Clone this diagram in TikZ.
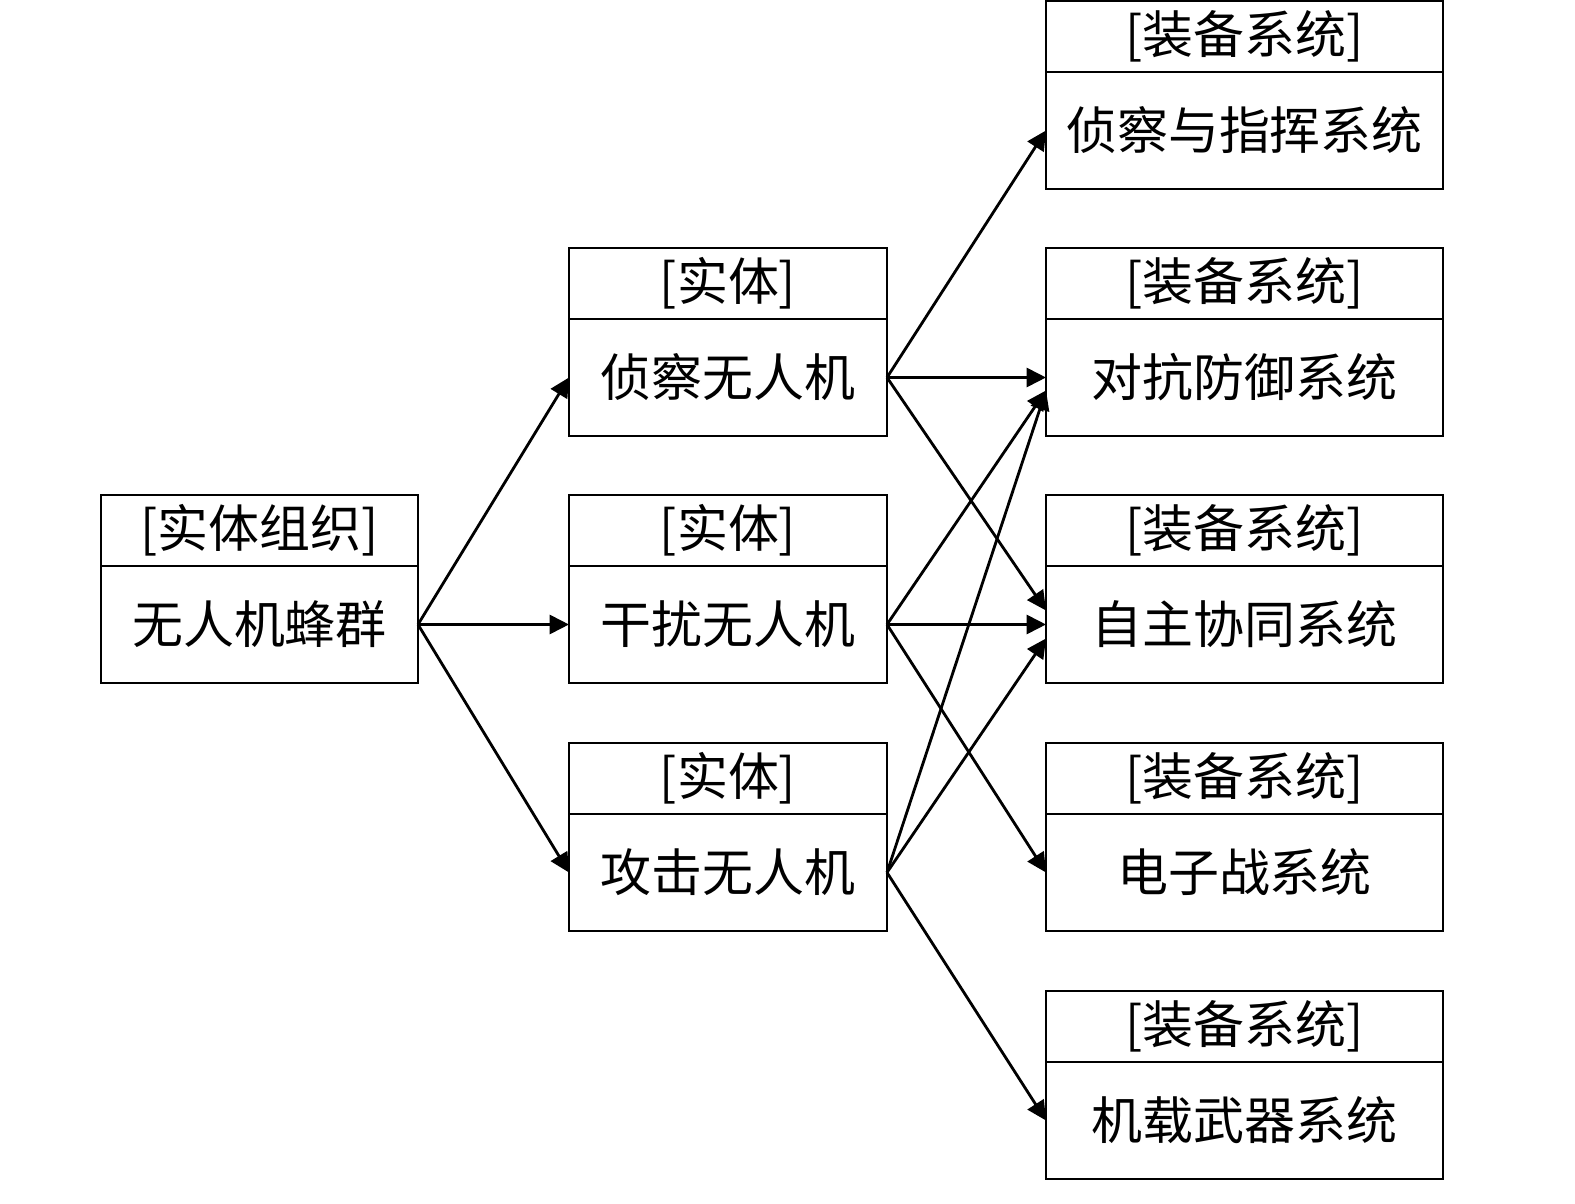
\documentclass[tikz,border=0pt]{standalone}
\usepackage{fontspec}
\newfontfamily\cjk{Noto Sans CJK SC}
\usetikzlibrary{arrows.meta,positioning}

\begin{document}
\begin{tikzpicture}

    % Define styles
    \tikzset{
        head box/.style={draw, line width=0.7pt, inner sep=0pt, outer sep=0pt, anchor=north west,
            minimum height=0.71cm, font=\cjk\fontsize{14.5}{16}\selectfont},
        body box/.style={draw, line width=0.7pt, inner sep=0pt, outer sep=0pt,
            minimum height=1.17cm, font=\cjk\fontsize{14.5}{16}\selectfont},
        link/.style={line width=0.8pt, -{Triangle[length=5.5pt,width=5.4pt]}}
    }

    % Page frame
    \useasboundingbox (0,0) rectangle (15.75,-12.04);

    % Entity organisation (left)
    \node[head box, minimum width=3.17cm] (swarm-h) at (1.01,-4.95) {[实体组织]};
    \node[body box, minimum width=3.17cm, below=0pt of swarm-h] (swarm) {无人机蜂群};

    % Entities (middle)
    \node[head box, minimum width=3.18cm] (recon-h) at (5.69,-2.48) {[实体]};
    \node[body box, minimum width=3.18cm, below=0pt of recon-h] (recon) {侦察无人机};
    \node[head box, minimum width=3.18cm] (jam-h) at (5.69,-4.95) {[实体]};
    \node[body box, minimum width=3.18cm, below=0pt of jam-h] (jam) {干扰无人机};
    \node[head box, minimum width=3.18cm] (strike-h) at (5.69,-7.43) {[实体]};
    \node[body box, minimum width=3.18cm, below=0pt of strike-h] (strike) {攻击无人机};

    % Equipment systems (right)
    \node[head box, minimum width=3.97cm] (cmd-h) at (10.46,-0.01) {[装备系统]};
    \node[body box, minimum width=3.97cm, below=0pt of cmd-h] (cmd) {侦察与指挥系统};
    \node[head box, minimum width=3.97cm] (def-h) at (10.46,-2.48) {[装备系统]};
    \node[body box, minimum width=3.97cm, below=0pt of def-h] (def) {对抗防御系统};
    \node[head box, minimum width=3.97cm] (coop-h) at (10.46,-4.95) {[装备系统]};
    \node[body box, minimum width=3.97cm, below=0pt of coop-h] (coop) {自主协同系统};
    \node[head box, minimum width=3.97cm] (ew-h) at (10.46,-7.43) {[装备系统]};
    \node[body box, minimum width=3.97cm, below=0pt of ew-h] (ew) {电子战系统};
    \node[head box, minimum width=3.97cm] (wpn-h) at (10.46,-9.91) {[装备系统]};
    \node[body box, minimum width=3.97cm, below=0pt of wpn-h] (wpn) {机载武器系统};

    % Swarm to entities
    \draw[link] (swarm.east) -- (recon.west);
    \draw[link] (swarm.east) -- (jam.west);
    \draw[link] (swarm.east) -- (strike.west);

    % Recon drone
    \draw[link] (recon.east) -- (cmd.west);
    \draw[link] (recon.east) -- (def.west);
    \draw[link] (recon.east) -- ([yshift=0.14cm]coop.west);

    % Jamming drone
    \draw[link] (jam.east) -- ([yshift=-0.13cm]def.west);
    \draw[link] (jam.east) -- (coop.west);
    \draw[link] (jam.east) -- (ew.west);

    % Strike drone
    \draw[link] (strike.east) -- ([yshift=-0.13cm]def.west);
    \draw[link] (strike.east) -- ([yshift=-0.14cm]coop.west);
    \draw[link] (strike.east) -- (wpn.west);

\end{tikzpicture}
\end{document}
